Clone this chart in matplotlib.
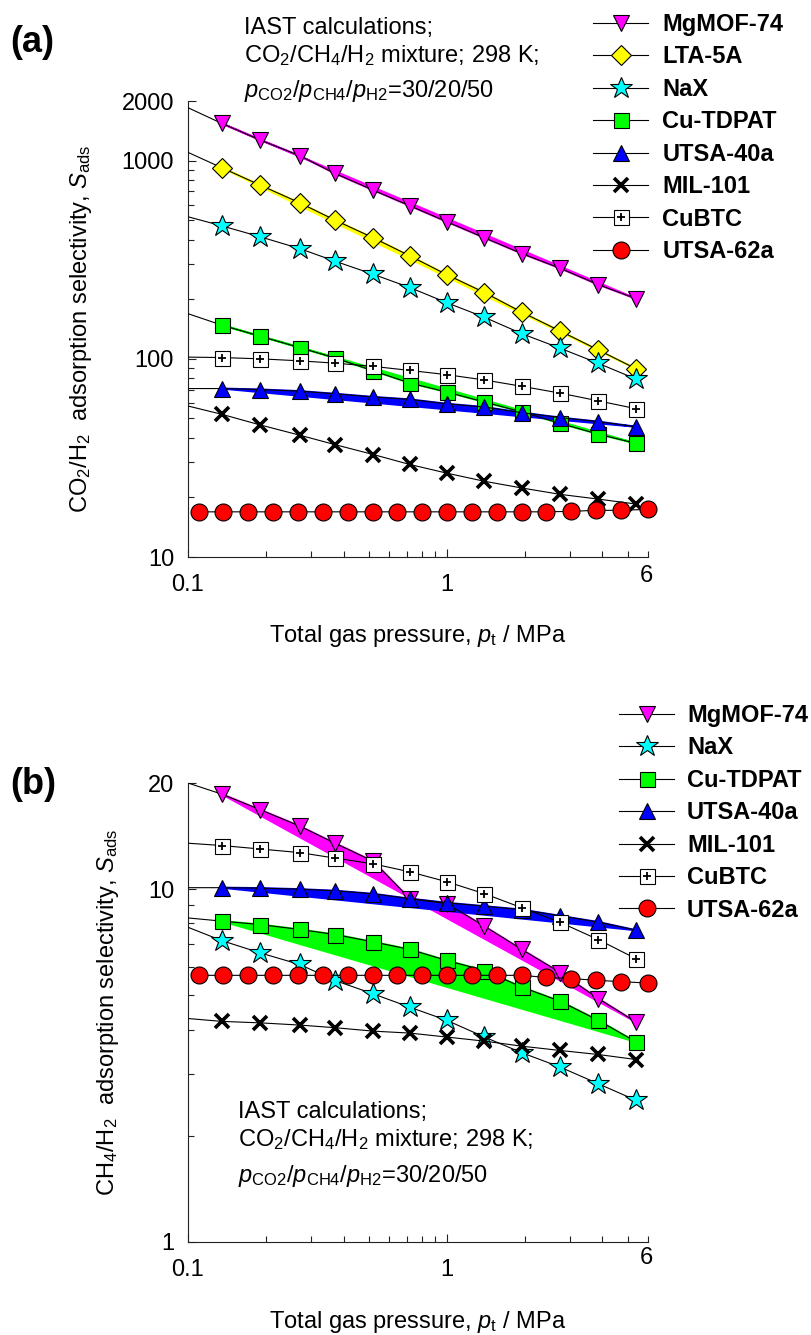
import matplotlib
matplotlib.use('Agg')
import matplotlib.pyplot as plt
from matplotlib.lines import Line2D
from matplotlib.ticker import FixedLocator, LogLocator, NullFormatter, FixedFormatter

plt.rcParams['font.family'] = ['Liberation Sans', 'DejaVu Sans']
plt.rcParams['mathtext.fontset'] = 'custom'
plt.rcParams['mathtext.rm'] = 'Liberation Sans'
plt.rcParams['mathtext.it'] = 'Liberation Sans:italic'
plt.rcParams['mathtext.bf'] = 'Liberation Sans:bold'

# ---------------- data ----------------
p_start = 0.1
p_pts = [0.135, 0.19, 0.27, 0.37, 0.52, 0.72, 1.0, 1.4, 1.95, 2.75, 3.85, 5.4]
p_utsa62 = [0.11, 0.137, 0.171, 0.213, 0.267, 0.333, 0.415, 0.518, 0.645, 0.805,
            1.0, 1.25, 1.56, 1.95, 2.43, 3.03, 3.78, 4.7, 6.0]

# (a) CO2/H2 selectivity
a_mgmof74 = [1542, 1271, 1059, 862, 710, 592, 492, 408, 340, 286, 237, 201]
a_lta5a = [921, 753, 613, 501, 408, 331, 266, 216, 172, 138, 111, 89]
a_nax = [469, 413, 360, 311, 267, 229, 192, 162, 134, 113, 95, 79]
a_cutdpat = [148, 130, 114, 101, 87, 75.5, 68, 60.5, 54, 47.2, 41.7, 37.4]
a_utsa40a = [70.8, 70.0, 68.7, 66.6, 64.2, 62.4, 59.3, 57.1, 53.5, 50.5, 48.2, 45.4]
a_mil101 = [52.5, 46.4, 41.2, 36.9, 32.9, 29.3, 26.5, 24.1, 22.3, 20.7, 19.6, 18.5]
a_cubtc = [101.5, 100, 97.7, 95.1, 91.6, 87.4, 83.2, 78.2, 72.7, 67.1, 61.4, 56]
a_utsa62a = [16.9, 16.9, 16.9, 16.9, 16.9, 16.9, 16.9, 16.9, 16.9, 16.9,
             16.9, 16.9, 16.9, 16.9, 16.9, 17.0, 17.2, 17.2, 17.4]
# values of the black curves at p = 0.1 MPa
a_start = {'MgMOF-74': 1850, 'LTA-5A': 1101, 'NaX': 521, 'Cu-TDPAT': 169,
           'UTSA-40a': 70.8, 'MIL-101': 57.8, 'CuBTC': 102}

# (b) CH4/H2 selectivity
b_mgmof74 = [18.6, 16.8, 15.1, 13.5, 12.0, 9.4, 9.1, 7.85, 6.75, 5.8, 4.9, 4.2]
b_nax = [7.15, 6.6, 6.12, 5.51, 5.05, 4.63, 4.25, 3.81, 3.44, 3.13, 2.81, 2.52]
b_cutdpat = [8.12, 7.94, 7.69, 7.44, 7.09, 6.75, 6.28, 5.88, 5.28, 4.81, 4.25, 3.69]
b_utsa40a = [10.1, 10.07, 10.0, 9.9, 9.7, 9.4, 9.15, 8.95, 8.75, 8.4, 8.07, 7.65]
b_mil101 = [4.22, 4.18, 4.12, 4.05, 3.96, 3.91, 3.81, 3.71, 3.59, 3.49, 3.40, 3.29]
b_cubtc = [13.3, 13.0, 12.7, 12.25, 11.8, 11.2, 10.5, 9.71, 8.86, 8.05, 7.2, 6.35]
b_utsa62a = [5.7, 5.7, 5.7, 5.7, 5.7, 5.7, 5.7, 5.7, 5.7, 5.7,
             5.7, 5.7, 5.7, 5.7, 5.62, 5.58, 5.52, 5.47, 5.42]
b_start = {'MgMOF-74': 20.0, 'NaX': 7.8, 'Cu-TDPAT': 8.29, 'UTSA-40a': 10.1,
           'MIL-101': 4.3, 'CuBTC': 13.5}

# ---------------- styles ----------------
STY = {
    'MgMOF-74': dict(marker='v', mfc='#FF00FF', ms=11.5, fill='#FF00FF'),
    'LTA-5A': dict(marker='D', mfc='#FFFF00', ms=10.0, fill='#FFFF00'),
    'NaX': dict(marker='*', mfc='#00FFFF', ms=16.5, fill=None),
    'Cu-TDPAT': dict(marker='s', mfc='#00FF00', ms=10.8, fill='#00FF00'),
    'UTSA-40a': dict(marker='^', mfc='#0000FF', ms=12.0, fill='#0000FF'),
    'MIL-101': dict(marker='x', mfc='k', ms=10.5, fill=None),
    'CuBTC': dict(marker='s', mfc='white', ms=10.8, fill=None),
    'UTSA-62a': dict(marker='o', mfc='#FF0000', ms=12.2, fill=None),
}

FS = 17
W, H = 812, 1335
fig = plt.figure(figsize=(W / 100, H / 100), dpi=100)


def fx(px):
    return px / W


def fy(py):
    return 1 - py / H


def marker_handle(name):
    s = STY[name]
    if name == 'MIL-101':
        return Line2D([], [], color='k', lw=0.8, marker='x', ms=s['ms'],
                      mec='k', mew=2.6)
    if name == 'CuBTC':
        h1 = Line2D([], [], color='k', lw=0.8, marker='s', ms=s['ms'],
                    mfc='white', mec='k', mew=0.8)
        h2 = Line2D([], [], ls='none', marker='+', ms=6, mec='k', mew=1.3)
        return (h1, h2)
    return Line2D([], [], color='k', lw=0.8, marker=s['marker'], ms=s['ms'],
                  mfc=s['mfc'], mec='k', mew=0.8)


def draw(ax, name, xs, ys, y0, z):
    s = STY[name]
    if s['fill'] is not None:
        ax.fill(xs, ys, color=s['fill'], lw=1.5, zorder=1.5)
    if y0 is not None:
        lx, ly = [p_start] + list(xs), [y0] + list(ys)
    else:
        lx, ly = xs, ys
    clip = name != 'UTSA-62a'
    ax.plot(lx, ly, color='k', lw=0.8, zorder=z, clip_on=clip)
    if name == 'MIL-101':
        ax.plot(xs, ys, ls='none', marker='x', ms=s['ms'], mec='k', mew=2.6,
                zorder=z + 0.01)
    elif name == 'CuBTC':
        ax.plot(xs, ys, ls='none', marker='s', ms=s['ms'], mfc='white',
                mec='k', mew=0.8, zorder=z + 0.01)
        ax.plot(xs, ys, ls='none', marker='+', ms=6, mec='k', mew=1.3,
                zorder=z + 0.02)
    else:
        ax.plot(xs, ys, ls='none', marker=s['marker'], ms=s['ms'],
                mfc=s['mfc'], mec='k', mew=0.8, zorder=z + 0.01, clip_on=clip)


def style_axes(ax, ylim, yticks, ylabels, ylabel, ylab_x, six_dy):
    ax.set_xscale('log')
    ax.set_yscale('log')
    ax.set_xlim(0.1, 6)
    ax.set_ylim(*ylim)
    for sp in ['top', 'right']:
        ax.spines[sp].set_visible(False)
    for sp in ['left', 'bottom']:
        ax.spines[sp].set_linewidth(0.8)
        ax.spines[sp].set_color('#222222')
    ax.xaxis.set_major_locator(FixedLocator([0.1, 1]))
    ax.xaxis.set_major_formatter(FixedFormatter(['0.1', '1']))
    ax.xaxis.set_minor_locator(LogLocator(base=10, subs=range(2, 10)))
    ax.xaxis.set_minor_formatter(NullFormatter())
    ax.yaxis.set_major_locator(FixedLocator(yticks))
    ax.yaxis.set_major_formatter(FixedFormatter(ylabels))
    ax.yaxis.set_minor_locator(LogLocator(base=10, subs=range(2, 10)))
    ax.yaxis.set_minor_formatter(NullFormatter())
    ax.tick_params(which='both', direction='in', width=0.8, color='#222222',
                   labelsize=FS)
    ax.tick_params(which='major', length=6)
    ax.tick_params(which='minor', length=4.5)
    ax.tick_params(axis='x', which='major', pad=12.5)
    ax.tick_params(axis='y', which='major', pad=10)
    ax.annotate('6', xy=(6, 0), xycoords=('data', 'axes fraction'),
                xytext=(-2, -six_dy), textcoords='offset pixels',
                ha='center', va='center', fontsize=FS)
    ax.set_xlabel(r'Total gas pressure, $\mathit{p}_{\mathrm{t}}$ / MPa',
                  fontsize=FS)
    ax.xaxis.set_label_coords(0.5, -0.145)
    ax.set_ylabel(ylabel, fontsize=FS)
    ax.yaxis.set_label_coords(ylab_x, 0.5)


def note(x, ys):
    lines = ['IAST calculations;',
             r'CO$_2$/CH$_4$/H$_2$ mixture; 298 K;',
             r'$\mathit{p}_{\mathrm{CO2}}$/$\mathit{p}_{\mathrm{CH4}}$/$\mathit{p}_{\mathrm{H2}}$=30/20/50']
    for t, y in zip(lines, ys):
        fig.text(fx(x), fy(y), t, fontsize=FS, ha='left', va='baseline')


# ---------------- panel (a) ----------------
axa = fig.add_axes([fx(188), fy(557), 460 / W, 456 / H])
a_series = [('MgMOF-74', a_mgmof74), ('LTA-5A', a_lta5a), ('NaX', a_nax),
            ('Cu-TDPAT', a_cutdpat), ('UTSA-40a', a_utsa40a),
            ('MIL-101', a_mil101), ('CuBTC', a_cubtc)]
for i, (nm, vals) in enumerate(a_series):
    draw(axa, nm, p_pts, vals, a_start[nm], 3 + i * 0.1)
draw(axa, 'UTSA-62a', p_utsa62, a_utsa62a, None, 3.9)
style_axes(axa, (10, 2000), [10, 100, 1000, 2000], ['10', '100', '1000', '2000'],
           r'CO$_2$/H$_2$  adsorption selectivity, $\mathit{S}_{\mathrm{ads}}$',
           -0.205, 19)
a_names = [n for n, _ in a_series] + ['UTSA-62a']
leg = axa.legend([marker_handle(n) for n in a_names], a_names,
                 loc='upper left', bbox_to_anchor=(fx(593), fy(13)),
                 bbox_transform=fig.transFigure, frameon=False,
                 prop=dict(size=FS, weight='bold'), handlelength=2.33,
                 handletextpad=0.6, labelspacing=0.40, borderpad=0,
                 borderaxespad=0)
note(244, [34.3, 61.7, 96.7])
fig.text(fx(10), fy(42.5), '(a)', fontsize=26, fontweight='bold',
         ha='left', va='center')

# ---------------- panel (b) ----------------
axb = fig.add_axes([fx(188), fy(1242), 460 / W, 459 / H])
b_series = [('MgMOF-74', b_mgmof74), ('NaX', b_nax), ('Cu-TDPAT', b_cutdpat),
            ('UTSA-40a', b_utsa40a), ('MIL-101', b_mil101), ('CuBTC', b_cubtc)]
for i, (nm, vals) in enumerate(b_series):
    draw(axb, nm, p_pts, vals, b_start[nm], 3 + i * 0.1)
draw(axb, 'UTSA-62a', p_utsa62, b_utsa62a, None, 3.9)
style_axes(axb, (1, 20), [1, 10, 20], ['1', '10', '20'],
           r'CH$_4$/H$_2$  adsorption selectivity, $\mathit{S}_{\mathrm{ads}}$',
           -0.145, 15.5)
b_names = [n for n, _ in b_series] + ['UTSA-62a']
legb = axb.legend([marker_handle(n) for n in b_names], b_names,
                  loc='upper left', bbox_to_anchor=(fx(619), fy(704)),
                  bbox_transform=fig.transFigure, frameon=False,
                  prop=dict(size=FS, weight='bold'), handlelength=2.33,
                  handletextpad=0.55, labelspacing=0.40, borderpad=0,
                  borderaxespad=0)
note(238, [1118.3, 1146, 1181.7])
fig.text(fx(10), fy(784), '(b)', fontsize=26, fontweight='bold',
         ha='left', va='center')

fig.savefig('out.png', dpi=100)
